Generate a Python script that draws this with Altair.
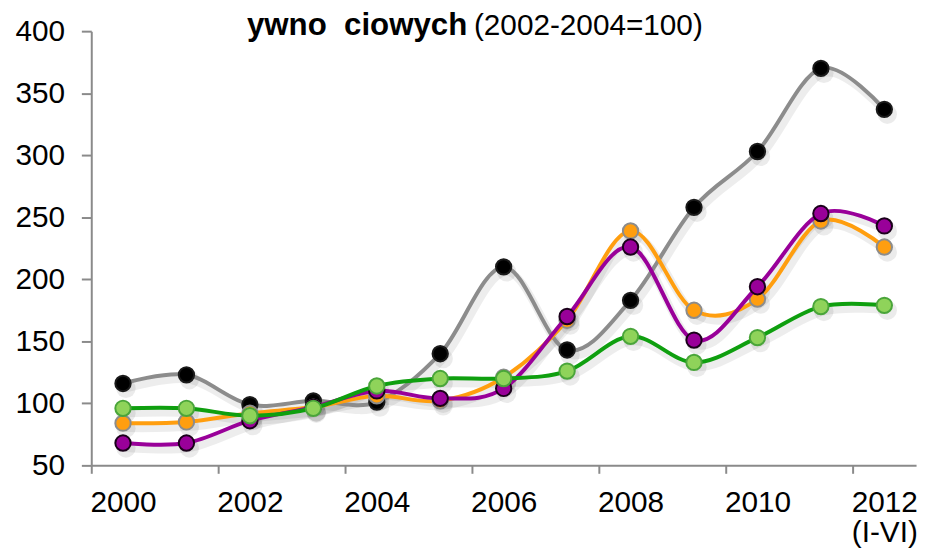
import altair as alt
import pandas as pd

YEARS = list(range(2000, 2013))
BLACK = [116, 123, 99, 102, 101, 140, 210, 143, 183, 258, 303, 370, 337]
ORANGE = [84, 85, 92, 97, 106, 102, 121, 167, 239, 175, 184, 247, 226]
PURPLE = [68, 68, 86, 97, 110, 104, 112, 170, 226, 151, 194, 253, 243]
GREEN = [96, 96, 90, 96, 114, 120, 120, 126, 154, 133, 153, 178, 179]

SERIES = ["s1", "s2", "s3", "s4"]
LINE_COLORS = ["#8c8c8c", "#ff9e0f", "#990099", "#0f9f0f"]
POINT_FILLS = ["#000000", "#ff9e0f", "#990099", "#8fd35a"]
POINT_STROKES = ["#1a1a1a", "#8c8c8c", "#1a001a", "#4aa53a"]

TICK_YEARS = [2000, 2002, 2004, 2006, 2008, 2010, 2012]
Y_TICKS = [50, 100, 150, 200, 250, 300, 350, 400]
LAST_LABEL = ["2012", "(I-VI)"]
TITLE_BOLD = "ywno\u00a0 ciowych"
TITLE_NORMAL = "(2002-2004=100)"

rows = []
for name, vals in zip(SERIES, [BLACK, ORANGE, PURPLE, GREEN]):
    for yr, v in zip(YEARS, vals):
        rows.append({"series": name, "year": yr, "value": v})
df = pd.DataFrame(rows)

FONT = "Liberation Sans"
AXIS_COLOR = "#8a8a8a"

x_enc = alt.X(
    "year:Q",
    scale=alt.Scale(domain=[1999.5, 2012.5], nice=False, zero=False),
    axis=alt.Axis(
        values=TICK_YEARS,
        format="d",
        tickOffset=-32,
        labelOffset=32,
        labelExpr="datum.value == 2012 ? ['%s', '%s'] : datum.label" % tuple(LAST_LABEL),
        labelLineHeight=30,
        labelBaseline="top",
        labelFontSize=30,
        labelFont=FONT,
        labelColor="#000000",
        labelPadding=15,
        labelOverlap=False,
        labelBound=False,
        labelFlush=False,
        tickSize=8,
        tickColor=AXIS_COLOR,
        tickWidth=2,
        domainColor=AXIS_COLOR,
        domainWidth=2,
        grid=False,
        title=None,
    ),
)
y_enc = alt.Y(
    "value:Q",
    scale=alt.Scale(domain=[50, 400], nice=False, zero=False),
    axis=alt.Axis(
        values=Y_TICKS,
        labelFontSize=30,
        labelFont=FONT,
        labelColor="#000000",
        labelPadding=17,
        tickSize=10,
        tickColor=AXIS_COLOR,
        tickWidth=2,
        domainColor=AXIS_COLOR,
        domainWidth=2,
        grid=False,
        title=None,
    ),
)

base = alt.Chart(df)

layers = []
# soft shadows
layers.append(
    base.mark_line(interpolate="cardinal", strokeWidth=8, color="#000000",
                   opacity=0.07, xOffset=3, yOffset=5).encode(
        x=x_enc, y=y_enc, detail="series:N")
)
layers.append(
    base.mark_circle(size=380, color="#000000", opacity=0.08,
                     xOffset=3, yOffset=5).encode(x=x_enc, y=y_enc)
)

for name, lc, pf, ps in zip(SERIES, LINE_COLORS, POINT_FILLS, POINT_STROKES):
    sub = base.transform_filter(alt.datum.series == name)
    layers.append(
        sub.mark_line(interpolate="cardinal", strokeWidth=4, color=lc).encode(
            x=x_enc, y=y_enc)
    )
    layers.append(
        sub.mark_point(shape="circle", filled=True, size=240, fill=pf,
                       stroke=ps, strokeWidth=2, opacity=1).encode(
            x=x_enc, y=y_enc)
    )

title_bold = alt.Chart(pd.DataFrame({"t": [TITLE_BOLD]})).mark_text(
    align="left", baseline="alphabetic", font=FONT, fontSize=31.5,
    fontWeight="bold", color="#000000"
).encode(x=alt.value(157), y=alt.value(4), text="t:N")

title_norm = alt.Chart(pd.DataFrame({"t": [TITLE_NORMAL]})).mark_text(
    align="left", baseline="alphabetic", font=FONT, fontSize=30,
    color="#000000"
).encode(x=alt.value(386), y=alt.value(4), text="t:N")

chart = alt.layer(*layers, title_bold, title_norm).properties(
    width=832,
    height=438,
    background="#ffffff",
    autosize=alt.AutoSizeParams(type="none"),
    padding={"left": 84, "top": 21, "right": 7, "bottom": 82},
).configure_view(stroke=None)

chart.save("out.html", embed_options={"renderer": "svg", "actions": False})
